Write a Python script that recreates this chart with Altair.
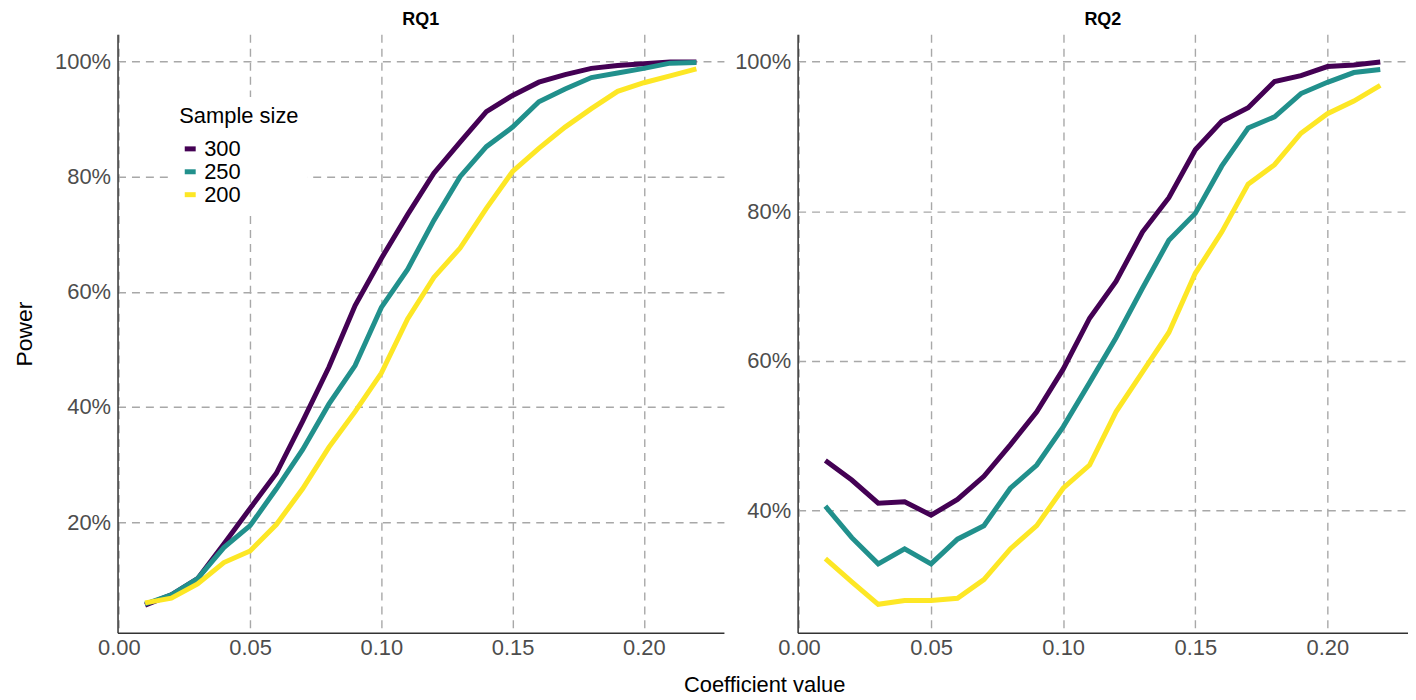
import altair as alt
import pandas as pd

coef = [0.01, 0.02, 0.03, 0.04, 0.05, 0.06, 0.07, 0.08, 0.09, 0.10, 0.11,
        0.12, 0.13, 0.14, 0.15, 0.16, 0.17, 0.18, 0.19, 0.20, 0.21, 0.22]

sizes = ["300", "250", "200"]
colors = ["#440154", "#21908C", "#FDE725"]

rq1_300 = [0.056, 0.074, 0.102, 0.162, 0.224, 0.285, 0.375, 0.469, 0.576, 0.658, 0.734,
           0.806, 0.860, 0.913, 0.941, 0.964, 0.977, 0.988, 0.993, 0.996, 0.999, 0.999]
rq1_250 = [0.058, 0.074, 0.102, 0.156, 0.194, 0.258, 0.326, 0.405, 0.472, 0.573, 0.639,
           0.724, 0.800, 0.852, 0.886, 0.930, 0.952, 0.972, 0.980, 0.988, 0.997, 0.998]
rq1_200 = [0.060, 0.068, 0.093, 0.130, 0.150, 0.196, 0.258, 0.330, 0.392, 0.459, 0.553,
           0.625, 0.676, 0.745, 0.809, 0.849, 0.886, 0.918, 0.948, 0.963, 0.975, 0.987]

rq2_300 = [0.467, 0.441, 0.410, 0.412, 0.394, 0.415, 0.446, 0.488, 0.532, 0.589, 0.657,
           0.706, 0.772, 0.818, 0.882, 0.920, 0.938, 0.973, 0.981, 0.993, 0.995, 0.999]
rq2_250 = [0.406, 0.364, 0.329, 0.349, 0.329, 0.362, 0.380, 0.430, 0.461, 0.512, 0.571,
           0.631, 0.697, 0.761, 0.797, 0.860, 0.911, 0.926, 0.957, 0.972, 0.985, 0.989]
rq2_200 = [0.336, 0.305, 0.275, 0.280, 0.280, 0.283, 0.308, 0.349, 0.380, 0.430, 0.461,
           0.532, 0.585, 0.638, 0.717, 0.772, 0.836, 0.862, 0.904, 0.930, 0.947, 0.968]

x_ticks = [0.0, 0.05, 0.10, 0.15, 0.20]
rq1_y_ticks = [0.2, 0.4, 0.6, 0.8, 1.0]
rq2_y_ticks = [0.4, 0.6, 0.8, 1.0]

FONT = "Liberation Sans, Arial, sans-serif"


def long_df(series):
    rows = []
    for s, vals in zip(sizes, series):
        for c, v in zip(coef, vals):
            rows.append({"coef": c, "power": v, "size": s})
    return pd.DataFrame(rows)


df1 = long_df([rq1_300, rq1_250, rq1_200])
df2 = long_df([rq2_300, rq2_250, rq2_200])

grid_kw = dict(gridColor="#a8a8a8", gridDash=[8, 6], gridWidth=1.4,
               domainColor="#333333", domainWidth=1.5, ticks=False,
               labelFontSize=22, labelColor="#4d4d4d", labelFont=FONT)

x_axis = alt.Axis(values=x_ticks, format=".2f", title=None, labelPadding=5,
                  labelFlush=False, **grid_kw)


def panel(df, title, y_ticks, y_domain, y_title, width, show_legend):
    x = alt.X("coef:Q", scale=alt.Scale(domain=[-0.0005, 0.2305], nice=False, zero=False),
              axis=x_axis)
    y = alt.Y("power:Q", scale=alt.Scale(domain=y_domain, nice=False, zero=False),
              axis=alt.Axis(values=y_ticks, format=".0%", labelPadding=7,
                            title=y_title if y_title else None,
                            titleFontSize=23, titleFontWeight="normal", titleColor="black",
                            titleFont=FONT, titlePadding=18, labelFlush=False, **grid_kw))
    if show_legend:
        legend = alt.Legend(title="Sample size", orient="none", legendX=53, legendY=63,
                            fillColor="white", padding=9, symbolType="stroke",
                            symbolSize=121, symbolStrokeWidth=5, labelOffset=3,
                            titleFontSize=22, titleFontWeight="normal", titleColor="black",
                            titleFont=FONT, titlePadding=10, labelFontSize=22,
                            labelColor="black", labelFont=FONT, rowPadding=1)
    else:
        legend = None
    color = alt.Color("size:N", scale=alt.Scale(domain=sizes, range=colors), legend=legend)
    layers = []
    for s in sizes:
        layers.append(
            alt.Chart(df).transform_filter(alt.datum.size == s)
            .mark_line(strokeWidth=5)
            .encode(x=x, y=y, color=color)
        )
    return alt.layer(*layers).properties(
        width=width, height=601,
        title=alt.TitleParams(title, fontSize=18, fontWeight="bold", anchor="middle",
                              font=FONT, color="black", offset=5),
    )


left = panel(df1, "RQ1", rq1_y_ticks, [0.008, 1.047], "Power", 609, True)
right = panel(df2, "RQ2", rq2_y_ticks, [0.237, 1.036], None, 613, False)

chart = (
    alt.hconcat(left, right, spacing=10)
    .resolve_scale(color="independent", y="independent")
    .properties(
        title=alt.TitleParams("Coefficient value", orient="bottom", anchor="middle",
                              fontSize=22, fontWeight="normal", color="black", font=FONT,
                              dx=54, offset=16),
        padding={"left": 5, "top": 2, "right": 0, "bottom": 0},
    )
    .configure_view(stroke=None)
    .configure_concat(spacing=10)
)

chart.save("out.html", embed_options={"renderer": "svg", "actions": False})
